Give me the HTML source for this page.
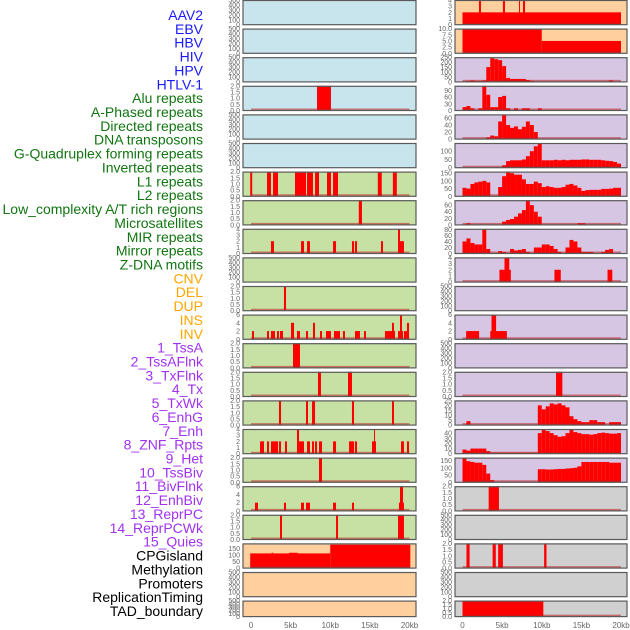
<!DOCTYPE html>
<html><head><meta charset="utf-8">
<style>
html,body{margin:0;padding:0;background:#fff;}
svg{display:block;}
.lab{font-family:"Liberation Sans",sans-serif;font-size:14px;}
.tk{font-family:"Liberation Sans",sans-serif;font-size:7px;fill:#666;}
.xt{font-family:"Liberation Sans",sans-serif;font-size:8px;fill:#666;}
</style></head>
<body>
<svg id="chart" width="630" height="630" viewBox="0 0 630 630" xmlns="http://www.w3.org/2000/svg"></svg>
<script>
// ===== labels =====
const labelNames = ["AAV2","EBV","HBV","HIV","HPV","HTLV-1","Alu repeats","A-Phased repeats","Directed repeats","DNA transposons","G-Quadruplex forming repeats","Inverted repeats","L1 repeats","L2 repeats","Low_complexity A/T rich regions","Microsatellites","MIR repeats","Mirror repeats","Z-DNA motifs","CNV","DEL","DUP","INS","INV","1_TssA","2_TssAFlnk","3_TxFlnk","4_Tx","5_TxWk","6_EnhG","7_Enh","8_ZNF_Rpts","9_Het","10_TssBiv","11_BivFlnk","12_EnhBiv","13_ReprPC","14_ReprPCWk","15_Quies","CPGisland","Methylation","Promoters","ReplicationTiming","TAD_boundary"];
const labelGroups = [6,13,5,15,5];
const groupColors = ["#1a1aff","#117511","#ffa500","#a032f0","#000000"];

// ===== tick sets =====
const ticksEmpty = [0,100,200,300,400,500];
const ticks2 = [0,0.5,1,1.5,2];
const ticks4 = [0,1,2,3,4];
const ticks6 = [0,2,4,6];
const ticks10 = [0,2.5,5,7.5,10];
const ticks250 = [0,50,100,150,200,250];
const ticks90 = [0,30,60,90];
const ticks60 = [0,20,40,60];
const ticks80 = [0,20,40,60,80];
const ticks100 = [0,50,100];
const ticks150 = [0,50,100,150];
const ticks25 = [0,5,10,15,20,25];
const ticks40 = [0,10,20,30,40];
const xTickValues = [0,5,10,15,20];
const xTickLabels = ["0","5kb","10kb","15kb","20kb"];

// ===== left column segments [startKb, endKb, value] =====
const L3 = [[8.33,10.09,2]];
const L6 = [[-0.1,0.15,2],[2.02,2.52,2],[2.78,3.41,2],[5.55,6.94,2],[7.07,7.82,2],[8.08,8.58,2],[9.59,10.09,2],[10.35,10.98,2],[16.0,16.5,2],[17.9,18.4,2]];
const L7 = [[13.6,14.0,2]];
const L8 = [[2.52,2.9,2],[6.31,6.69,2],[7.07,7.44,2],[10.35,10.73,2],[12.74,13.0,2],[13.12,13.38,2],[16.4,16.66,2],[18.8,19.3,2],[18.55,18.8,4]];
const L10 = [[4.16,4.42,2]];
const L11 = [[0.13,0.38,2],[2.02,2.27,2],[2.52,3.03,2],[3.28,3.53,2],[3.66,4.04,2],[5.05,5.43,4],[5.8,6.18,2],[6.94,7.19,2],[7.82,8.08,4],[8.71,8.96,2],[9.46,10.09,2],[10.47,11.23,2],[11.6,11.86,2],[13.12,13.75,2],[14.26,14.51,2],[16.9,18.17,2],[17.79,18.04,4],[18.55,19.18,2],[18.8,19.05,6],[19.3,19.68,2],[19.68,19.94,4]];
const L12 = [[5.3,6.18,2]];
const L13 = [[8.45,8.83,2],[12.24,12.74,2]];
const L14 = [[3.53,3.79,2],[6.94,7.19,2],[7.7,8.08,2],[12.74,13.0,2],[17.79,18.04,2]];
const L15 = [[1.14,1.64,2],[2.02,2.27,2],[2.52,3.41,2],[3.53,3.79,2],[4.29,4.54,2],[6.06,6.69,2],[5.8,6.06,4],[7.07,7.44,2],[7.7,7.95,2],[8.08,8.33,2],[8.58,8.96,2],[10.35,10.73,2],[12.37,13.0,2],[13.12,13.38,2],[15.27,15.77,2],[15.52,15.65,4],[18.93,19.3,2],[19.68,19.94,2]];
const L16 = [[8.58,8.96,2]];
const L17 = [[0.5,0.88,2],[4.16,4.42,2],[6.31,6.69,2],[6.94,7.44,2],[10.35,10.73,2],[12.74,13.0,2],[18.67,19.3,2],[18.8,19.18,6]];
const L18 = [[3.66,3.91,2],[10.73,10.98,2],[18.55,19.3,2]];
const L19 = [[-0.1,10,113],[2.6,2.8,118],[4.8,5.9,118],[10,20.1,180]];

// ===== right column segments =====
const R0 = [[0,20,2],[2.08,2.33,4],[5.1,5.36,4],[7.13,7.26,4],[7.63,7.89,4]];
const R1 = [[0,10,10],[10,20,5]];
const R9 = [[4.66,6.1,2],[5.3,5.9,4],[11.6,12.4,2],[18.3,18.9,2]];
const R11 = [[0.46,2.1,2],[3.5,5.6,2],[3.66,4.24,6]];
const R13 = [[11.8,12.6,2]];
const R17 = [[3.3,4.6,2]];
const R19 = [[0.5,0.9,2],[3.8,4.2,2],[4.5,5.1,2],[10.3,10.6,2]];
const R21 = [[0,10.2,2]];

// ===== right column 0.5kb bins =====
const R2bins = [0,10,15,10,10,15,150,240,230,220,160,40,30,30,30,30,20,10,0,0,0,0,0,0,0,0,0,0,0,0,0,0,0,0,0,0,0,15,0,0];
const R3bins = [15,20,10,0,10,110,70,15,15,60,65,10,0,10,0,10,10,0,0,10,0,0,0,0,0,0,0,0,0,0,0,0,0,0,0,0,0,0,0,0];
const R4bins = [0,0,0,0,0,0,5,10,8,50,68,40,32,36,28,35,50,40,20,0,0,0,0,0,0,0,0,0,0,0,0,0,0,0,0,0,0,0,0,0];
const R5bins = [0,0,0,0,0,0,0,0,0,0,15,40,45,45,45,50,70,100,130,150,45,45,45,48,45,48,45,48,48,48,50,50,48,48,48,45,42,40,35,25];
const R6bins = [55,50,80,90,95,100,90,0,0,60,130,155,150,140,140,110,80,80,95,85,60,65,60,55,55,60,75,80,70,55,35,40,42,42,42,48,48,50,55,55];
const R7bins = [0,5,0,0,0,0,0,0,0,0,10,15,18,25,35,45,75,60,40,25,0,0,0,0,0,0,0,0,0,5,5,0,0,0,0,0,0,0,0,0];
const R8bins = [40,50,35,30,30,80,15,0,0,8,5,0,15,10,12,15,5,0,20,20,30,30,25,15,5,0,20,45,40,20,5,5,5,0,0,5,12,15,0,0];
const R14bins = [0,4,0,0,0,0,0,0,0,0,0,0,0,0,0,0,0,0,0,20,16,19,22,21,22,20,18,9,6,4,3,3,5,5,3,3,0,3,3,3];
const R15bins = [8,6,10,10,10,10,5,2,2,2,2,2,2,2,2,2,2,2,2,40,46,44,40,36,33,34,40,46,42,40,38,38,37,38,40,41,40,39,39,40];
const R16bins = [165,145,140,135,135,120,60,15,0,0,0,0,0,0,0,0,0,0,0,90,90,88,88,90,92,92,95,97,100,110,140,140,140,140,140,140,140,135,135,135];

// ===== panel config (no positions) =====
const BLUE="#c8e4ec", GREEN="#c7e1a5", ORANGE="#ffd09e", PURPLE="#d6c6e3", GRAY="#d0d0d0";
const leftPanels = [
 [BLUE,null,500,ticksEmpty],[BLUE,null,500,ticksEmpty],[BLUE,null,500,ticksEmpty],[BLUE,L3,2,ticks2],
 [BLUE,null,500,ticksEmpty],[BLUE,null,500,ticksEmpty],[GREEN,L6,2,ticks2],[GREEN,L7,2,ticks2],
 [GREEN,L8,4,ticks4],[GREEN,null,500,ticksEmpty],[GREEN,L10,2,ticks2],[GREEN,L11,6,ticks6],
 [GREEN,L12,2,ticks2],[GREEN,L13,2,ticks2],[GREEN,L14,2,ticks2],[GREEN,L15,4,ticks4],
 [GREEN,L16,2,ticks2],[GREEN,L17,6,ticks6],[GREEN,L18,2,ticks2],[ORANGE,L19,190,ticks150],
 [ORANGE,null,500,ticksEmpty],[ORANGE,null,500,ticksEmpty]];
const rightPanels = [
 [ORANGE,R0,4,ticks4],[ORANGE,R1,10,ticks10],[PURPLE,R2bins,250,ticks250],[PURPLE,R3bins,110,ticks90],
 [PURPLE,R4bins,70,ticks60],[PURPLE,R5bins,150,ticks100],[PURPLE,R6bins,160,ticks150],[PURPLE,R7bins,75,ticks60],
 [PURPLE,R8bins,82,ticks80],[PURPLE,R9,4,ticks4],[PURPLE,null,500,ticksEmpty],[PURPLE,R11,6,ticks6],
 [PURPLE,null,500,ticksEmpty],[PURPLE,R13,2,ticks2],[PURPLE,R14bins,25,ticks25],[PURPLE,R15bins,48,ticks40],
 [PURPLE,R16bins,170,ticks150],[GRAY,R17,2,ticks2],[GRAY,null,500,ticksEmpty],[GRAY,R19,2,ticks2],
 [GRAY,null,500,ticksEmpty],[GRAY,R21,2,ticks2]];

const NS="http://www.w3.org/2000/svg";
const svg=document.getElementById('chart');
function mk(tag,attrs,parent){const e=document.createElementNS(NS,tag);for(const k in attrs)e.setAttribute(k,attrs[k]);(parent||svg).appendChild(e);return e;}

// labels
let li=0;
labelGroups.forEach((n,g)=>{for(let j=0;j<n;j++){
  const t=mk('text',{x:203,y:15+li*13.86+5,'text-anchor':'end',fill:groupColors[g],class:'lab'});
  t.textContent=labelNames[li];
  
  
  li++;}});

function fmt(v,ticks){const dec=ticks.some(t=>t%1!==0);return dec?v.toFixed(1):String(v);}

function drawPanel(cfg,col,row){
  const [bg,data,ymax,ticks]=cfg;
  const px = col===0?243:455, pw = col===0?173:172;
  const py = row*28.6, ph = row===21?16:24.7;
  const x0 = col===0?251:462.5, x20 = col===0?409.5:621;
  const xs = kb=>x0+(x20-x0)*kb/20;
  const ys = v=>py+ph-ph*Math.min(v,ymax)/ymax;
  const g=mk('g',{});
  
  
  const r=mk('rect',{x:px,y:py,width:pw,height:ph,fill:bg},g);
  
  
  // ticks
  ticks.forEach(t=>{const tl=mk('text',{x:px-3,y:ys(t)+2.5,'text-anchor':'end',class:'tk'},g);
    tl.textContent=fmt(t,ticks);
    
    });
  if(data){
    const isBins = typeof data[0]==='number';
    const segs = isBins? data.map((v,i)=>[i*0.5,(i+1)*0.5,v]) : data;
    segs.forEach(s=>{ if(s[2]<=0) return;
      const b=mk('rect',{x:xs(s[0]),y:ys(s[2]),width:Math.max(1,xs(s[1])-xs(s[0])),height:py+ph-ys(s[2]),fill:'#ff0000'},g);
      
      });
    const bl=mk('line',{x1:xs(0),x2:xs(20),y1:py+ph-1,y2:py+ph-1,stroke:'rgba(190,30,30,0.55)','stroke-width':2},g);
    
    
  }
  const br=mk('rect',{x:px,y:py+0.5,width:pw,height:ph-0.5,fill:'none',stroke:'#5a5a5a','stroke-width':1.2},g);
  
  
}
leftPanels.forEach((c,i)=>drawPanel(c,0,i));
rightPanels.forEach((c,i)=>drawPanel(c,1,i));

// x axis tick labels
[[251,409.5],[462.5,621]].forEach((r,ci)=>{
  xTickValues.forEach((v,i)=>{
    const t=mk('text',{x:r[0]+(r[1]-r[0])*v/20,y:628,'text-anchor':'middle',class:'xt'});
    t.textContent=xTickLabels[i];
    
    
  });
});
</script>
</body></html>
